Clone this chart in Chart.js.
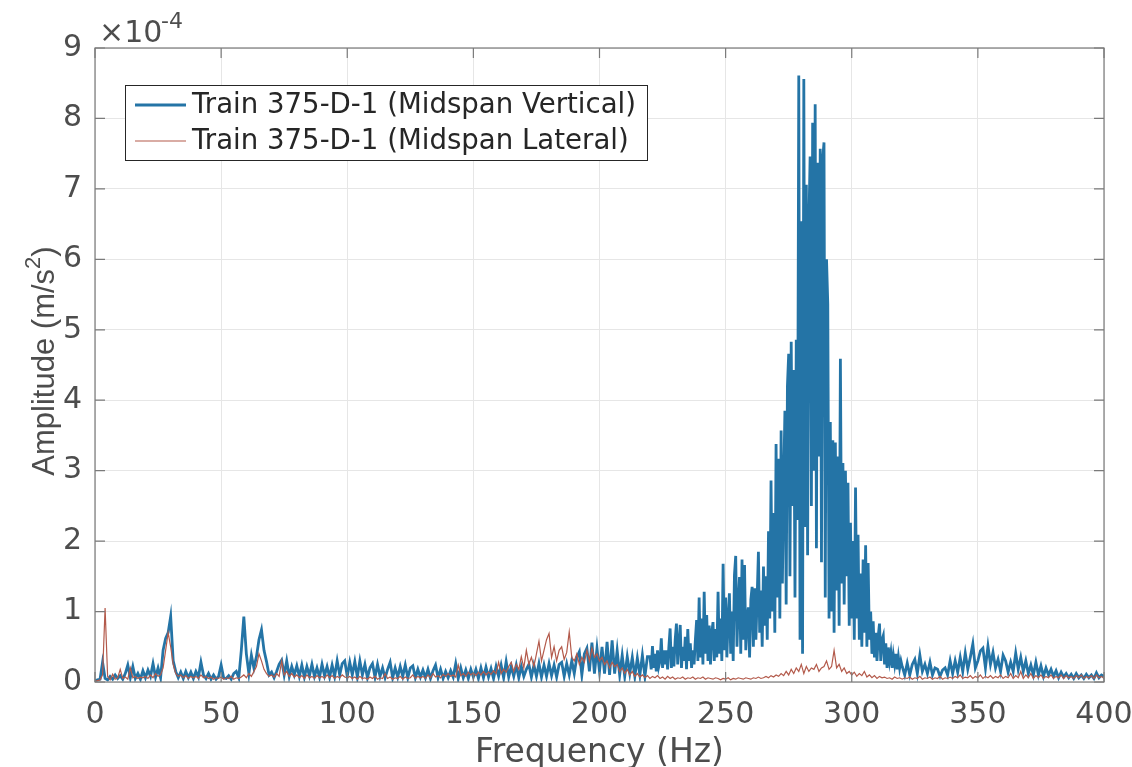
<!DOCTYPE html>
<html>
<head>
<meta charset="utf-8">
<script src="https://cdn.jsdelivr.net/npm/chart.js@4/dist/chart.umd.min.js"></script>
<style>
  html, body { margin: 0; padding: 0; background: #fff; }
  canvas { display: block; }
</style>
</head>
<body>
<canvas id="spectrum" width="1132" height="767"></canvas>
<script>
// amplitudes are in units of 1e-4 m/s^2 (the axis carries the x10^-4 factor)
var seriesLabels = ['Train 375-D-1 (Midspan Vertical)', 'Train 375-D-1 (Midspan Lateral)'];
var xTicks = [0, 50, 100, 150, 200, 250, 300, 350, 400];
var yTicks = [0, 1, 2, 3, 4, 5, 6, 7, 8, 9];

// vertical, 0..219 Hz, 1 Hz bins
var vertLow = [
  0.02,0.03,0.04,0.28,0.05,0.03,0.08,0.04,0.1,0.05,
  0.09,0.04,0.12,0.24,0.06,0.22,0.05,0.12,0.04,0.16,
  0.06,0.17,0.08,0.26,0.07,0.2,0.06,0.45,0.62,0.7,
  0.93,0.3,0.15,0.06,0.14,0.05,0.15,0.06,0.14,0.05,
  0.15,0.07,0.28,0.1,0.05,0.12,0.04,0.1,0.04,0.08,
  0.24,0.06,0.05,0.09,0.04,0.12,0.15,0.06,0.45,0.93,
  0.4,0.12,0.38,0.2,0.36,0.6,0.74,0.45,0.29,0.1,
  0.14,0.06,0.15,0.25,0.31,0.1,0.3,0.08,0.22,0.1,
  0.23,0.08,0.24,0.07,0.22,0.09,0.25,0.08,0.2,0.07,
  0.25,0.09,0.22,0.07,0.24,0.08,0.3,0.1,0.26,0.3,
  0.08,0.28,0.1,0.29,0.07,0.3,0.1,0.25,0.06,0.2,
  0.26,0.07,0.25,0.08,0.2,0.06,0.18,0.28,0.06,0.2,
  0.07,0.22,0.08,0.24,0.06,0.2,0.23,0.06,0.18,0.07,
  0.17,0.06,0.18,0.05,0.16,0.24,0.06,0.18,0.05,0.15,
  0.06,0.16,0.07,0.26,0.05,0.2,0.06,0.17,0.05,0.18,
  0.07,0.18,0.05,0.2,0.06,0.21,0.07,0.19,0.05,0.22,
  0.08,0.24,0.06,0.29,0.07,0.22,0.08,0.24,0.06,0.22,
  0.08,0.18,0.25,0.07,0.24,0.08,0.26,0.07,0.24,0.08,
  0.26,0.09,0.24,0.07,0.25,0.28,0.08,0.26,0.1,0.3,
  0.12,0.35,0.43,0.1,0.4,0.48,0.15,0.56,0.12,0.48,
  0.15,0.5,0.12,0.57,0.1,0.59,0.12,0.45,0.1,0.38,
  0.08,0.36,0.12,0.35,0.08,0.34,0.1,0.38,0.08,0.36
];

// vertical, 220..320 Hz, 0.5 Hz bins (the resonance)
var vertPeak = [
  0.36,0.18,0.51,0.2,0.4,0.15,0.45,0.22,0.3,0.62,
  0.2,0.45,0.25,0.45,0.18,0.5,0.76,0.2,0.5,0.22,
  0.6,0.83,0.25,0.55,0.81,0.2,0.5,0.3,0.64,0.18,
  0.75,0.3,0.55,0.2,0.45,0.25,0.6,0.88,0.3,1.2,
  0.35,0.9,0.25,1.28,0.4,0.95,0.3,0.8,0.25,0.7,
  0.85,0.3,0.75,0.35,1.28,0.4,0.9,0.3,1.68,0.45,
  1.2,0.35,0.9,1.26,0.4,1.0,0.3,1.52,1.79,0.5,
  1.1,1.49,0.4,1.74,0.6,1.66,0.45,0.9,1.06,0.35,
  1.17,1.35,0.5,1.33,0.6,1.2,1.85,0.7,1.3,0.5,
  1.64,0.8,1.5,0.6,2.14,0.9,2.86,1.0,2.4,0.7,
  3.38,1.2,3.17,0.9,3.57,1.4,2.8,3.85,1.1,4.2,
  4.66,1.5,4.83,2.5,4.43,1.2,4.86,2.3,8.61,0.6,
  6.54,0.4,8.56,2.2,7.06,1.8,6.5,7.46,2.5,7.94,
  3.0,8.2,1.9,7.37,3.2,7.57,1.7,7.43,7.66,1.2,
  6.0,5.37,0.9,3.69,1.0,3.43,0.7,3.4,1.3,3.2,
  0.8,4.59,1.4,3.11,1.1,3.0,1.5,2.83,0.8,2.26,
  0.9,2.0,0.6,2.76,0.9,2.09,0.6,1.54,0.5,1.74,
  0.7,1.94,0.5,1.69,0.6,1.0,0.4,0.86,0.35,0.7,
  0.3,0.65,0.83,0.3,0.6,0.66,0.25,0.55,0.2,0.49,
  0.3,0.42,0.2,0.38,0.25,0.4,0.18,0.35,0.2,0.3,
  0.22
];

// vertical, 321..400 Hz, 1 Hz bins
var vertHigh = [
  0.1,0.27,0.1,0.25,0.32,0.12,0.38,0.15,0.25,
  0.12,0.28,0.1,0.2,0.18,0.08,0.17,0.2,0.1,0.3,
  0.12,0.3,0.14,0.35,0.15,0.41,0.18,0.35,0.54,0.2,
  0.3,0.44,0.48,0.2,0.51,0.25,0.42,0.2,0.32,0.15,
  0.38,0.3,0.14,0.28,0.15,0.41,0.18,0.35,0.15,0.3,
  0.12,0.24,0.1,0.28,0.1,0.23,0.08,0.2,0.1,0.18,
  0.08,0.16,0.06,0.14,0.07,0.12,0.06,0.11,0.05,0.12,
  0.06,0.1,0.05,0.11,0.06,0.1,0.05,0.13,0.06,0.1,
  0.08
];

// lateral, 0..400 Hz, 1 Hz bins
var latAmp = [
  0.01,0.02,0.03,0.1,1.05,0.08,0.03,0.11,0.04,0.06,
  0.18,0.05,0.07,0.04,0.2,0.06,0.08,0.05,0.07,0.06,
  0.08,0.05,0.1,0.06,0.12,0.08,0.1,0.2,0.45,0.7,
  0.5,0.25,0.12,0.08,0.1,0.06,0.09,0.05,0.08,0.06,
  0.08,0.05,0.1,0.06,0.08,0.05,0.07,0.04,0.06,0.05,
  0.07,0.04,0.06,0.05,0.08,0.04,0.06,0.05,0.07,0.1,
  0.06,0.12,0.08,0.15,0.22,0.4,0.3,0.18,0.12,0.08,
  0.1,0.07,0.12,0.08,0.3,0.1,0.15,0.08,0.12,0.07,
  0.1,0.06,0.09,0.05,0.1,0.06,0.08,0.05,0.09,0.06,
  0.08,0.05,0.1,0.06,0.09,0.05,0.08,0.06,0.1,0.07,
  0.06,0.08,0.05,0.07,0.04,0.08,0.05,0.06,0.04,0.07,
  0.05,0.08,0.04,0.06,0.05,0.12,0.05,0.07,0.04,0.06,
  0.05,0.08,0.04,0.07,0.05,0.06,0.1,0.05,0.08,0.06,
  0.08,0.05,0.1,0.06,0.12,0.07,0.09,0.06,0.11,0.08,
  0.12,0.08,0.1,0.07,0.24,0.09,0.12,0.08,0.14,0.1,
  0.13,0.09,0.14,0.1,0.15,0.1,0.14,0.11,0.16,0.12,
  0.28,0.12,0.18,0.14,0.22,0.28,0.15,0.25,0.18,0.36,
  0.2,0.45,0.25,0.35,0.22,0.4,0.58,0.3,0.45,0.6,
  0.69,0.35,0.5,0.3,0.45,0.5,0.32,0.42,0.71,0.35,
  0.3,0.4,0.25,0.35,0.28,0.45,0.3,0.48,0.35,0.4,
  0.3,0.35,0.25,0.3,0.2,0.28,0.22,0.25,0.15,0.2,
  0.12,0.18,0.1,0.15,0.08,0.12,0.07,0.1,0.06,0.09,
  0.05,0.08,0.06,0.09,0.05,0.07,0.04,0.08,0.05,0.07,
  0.04,0.06,0.05,0.07,0.04,0.06,0.05,0.07,0.04,0.06,
  0.05,0.07,0.04,0.06,0.05,0.04,0.06,0.05,0.03,0.05,
  0.04,0.06,0.03,0.05,0.04,0.06,0.05,0.04,0.06,0.05,
  0.04,0.06,0.05,0.07,0.05,0.06,0.08,0.06,0.09,0.07,
  0.1,0.08,0.12,0.09,0.15,0.1,0.18,0.12,0.2,0.15,
  0.25,0.12,0.22,0.15,0.2,0.18,0.25,0.15,0.2,0.22,
  0.3,0.18,0.22,0.45,0.2,0.25,0.15,0.2,0.12,0.15,
  0.1,0.14,0.08,0.12,0.09,0.15,0.07,0.1,0.06,0.09,
  0.05,0.08,0.06,0.07,0.05,0.06,0.04,0.07,0.05,0.06,
  0.04,0.06,0.05,0.07,0.04,0.06,0.05,0.08,0.04,0.06,
  0.05,0.07,0.04,0.06,0.05,0.08,0.04,0.06,0.05,0.07,
  0.05,0.08,0.06,0.1,0.05,0.07,0.06,0.09,0.05,0.08,
  0.06,0.1,0.05,0.08,0.06,0.09,0.05,0.08,0.06,0.1,
  0.05,0.08,0.06,0.12,0.05,0.09,0.06,0.15,0.05,0.1,
  0.06,0.12,0.05,0.09,0.06,0.1,0.05,0.08,0.06,0.1,
  0.05,0.08,0.06,0.1,0.05,0.09,0.06,0.08,0.05,0.09,
  0.06,0.1,0.05,0.08,0.06,0.09,0.05,0.1,0.06,0.08,
  0.05
];

var blue = '#2474a6';
var red = '#b35a4b';
var tickGrey = '#4d4d4d';

function toPoints(vals, start, step) {
  return vals.map(function(v, i) { return { x: start + i * step, y: v }; });
}

var vertPoints = toPoints(vertLow, 0, 1)
  .concat(toPoints(vertPeak, 220, 0.5))
  .concat(toPoints(vertHigh, 321, 1));
var latPoints = toPoints(latAmp, 0, 1);

// MATLAB-like box, inward ticks, exponent, y title and legend
var matlabFrame = {
  id: 'matlabFrame',
  afterDatasetsDraw: function(chart) {
    var ctx = chart.ctx, a = chart.chartArea;
    var xs = chart.scales.x, ys = chart.scales.y;
    ctx.save();
    ctx.strokeStyle = '#7a7a7a';
    ctx.lineWidth = 1.2;
    ctx.strokeRect(a.left, a.top, a.right - a.left, a.bottom - a.top);
    ctx.beginPath();
    xTicks.forEach(function(v) {
      var px = xs.getPixelForValue(v);
      ctx.moveTo(px, a.bottom); ctx.lineTo(px, a.bottom - 10);
      ctx.moveTo(px, a.top); ctx.lineTo(px, a.top + 10);
    });
    yTicks.forEach(function(v) {
      var py = ys.getPixelForValue(v);
      ctx.moveTo(a.left, py); ctx.lineTo(a.left + 10, py);
      ctx.moveTo(a.right, py); ctx.lineTo(a.right - 10, py);
    });
    ctx.stroke();

    ctx.fillStyle = tickGrey;
    ctx.textBaseline = 'alphabetic';
    ctx.textAlign = 'left';
    ctx.font = '30px "DejaVu Sans"';
    ctx.fillText('\u00d710', 99, 42);
    ctx.font = '22px "DejaVu Sans"';
    ctx.fillText('-4', 161, 28);

    // y axis title with a real superscript
    var main = 'Amplitude (m/s';
    ctx.font = '31px "Liberation Sans"';
    var w1 = ctx.measureText(main).width;
    var w3 = ctx.measureText(')').width;
    ctx.font = '22px "Liberation Sans"';
    var w2 = ctx.measureText('2').width;
    var total = w1 + w2 + w3;
    ctx.translate(54, 361);
    ctx.rotate(-Math.PI / 2);
    ctx.font = '31px "Liberation Sans"';
    ctx.fillText(main, -total / 2, 0);
    ctx.fillText(')', -total / 2 + w1 + w2, 0);
    ctx.font = '22px "Liberation Sans"';
    ctx.fillText('2', -total / 2 + w1, -14);
    ctx.restore();
  },
  afterDraw: function(chart) {
    var ctx = chart.ctx;
    var box = { l: 125, t: 85, r: 647, b: 160 };
    var rows = [
      { y: 105, color: blue, w: 2.8, text: seriesLabels[0] },
      { y: 141, color: red, w: 1.1, text: seriesLabels[1] }
    ];
    ctx.save();
    ctx.fillStyle = '#fff';
    ctx.fillRect(box.l, box.t, box.r - box.l, box.b - box.t);
    ctx.strokeStyle = '#262626';
    ctx.lineWidth = 1;
    ctx.strokeRect(box.l + 0.5, box.t + 0.5, box.r - box.l, box.b - box.t);
    ctx.font = '27.6px "DejaVu Sans"';
    ctx.textBaseline = 'middle';
    ctx.textAlign = 'left';
    rows.forEach(function(r) {
      ctx.strokeStyle = r.color;
      ctx.lineWidth = r.w;
      ctx.beginPath();
      ctx.moveTo(135, r.y);
      ctx.lineTo(186, r.y);
      ctx.stroke();
      ctx.fillStyle = '#262626';
      ctx.fillText(r.text, 192, r.y + 1);
    });
    ctx.restore();
  }
};

new Chart(document.getElementById('spectrum'), {
  type: 'line',
  data: {
    datasets: [
      {
        label: seriesLabels[1],
        data: latPoints,
        borderColor: red,
        borderWidth: 1.2,
        pointRadius: 0,
        tension: 0,
        order: 0
      },
      {
        label: seriesLabels[0],
        data: vertPoints,
        borderColor: blue,
        borderWidth: 2.8,
        pointRadius: 0,
        tension: 0,
        order: 1
      }
    ]
  },
  options: {
    responsive: false,
    animation: false,
    events: [],
    layout: { padding: { left: 0, right: 28, top: 48, bottom: 0 } },
    plugins: {
      legend: { display: false },
      tooltip: { enabled: false }
    },
    scales: {
      x: {
        type: 'linear',
        min: 0,
        max: 400,
        afterBuildTicks: function(s) { s.ticks = xTicks.map(function(v) { return { value: v }; }); },
        afterFit: function(s) { s.height = 85; s.paddingLeft = 0; s.paddingRight = 0; },
        grid: { color: '#e6e6e6', lineWidth: 1, drawTicks: false },
        border: { display: false },
        ticks: {
          font: { family: 'DejaVu Sans', size: 30 },
          color: tickGrey,
          padding: 15,
          maxRotation: 0,
          autoSkip: false
        },
        title: {
          display: true,
          text: 'Frequency (Hz)',
          font: { family: 'DejaVu Sans', size: 33, lineHeight: 1 },
          color: tickGrey,
          padding: { top: 0, bottom: -3 }
        }
      },
      y: {
        type: 'linear',
        min: 0,
        max: 9,
        afterBuildTicks: function(s) { s.ticks = yTicks.map(function(v) { return { value: v }; }); },
        afterFit: function(s) { s.width = 95; s.paddingTop = 0; s.paddingBottom = 0; },
        grid: { color: '#e6e6e6', lineWidth: 1, drawTicks: false },
        border: { display: false },
        ticks: {
          font: { family: 'DejaVu Sans', size: 30 },
          color: tickGrey,
          padding: 13
        },
        title: { display: false }
      }
    }
  },
  plugins: [matlabFrame]
});
</script>
</body>
</html>
